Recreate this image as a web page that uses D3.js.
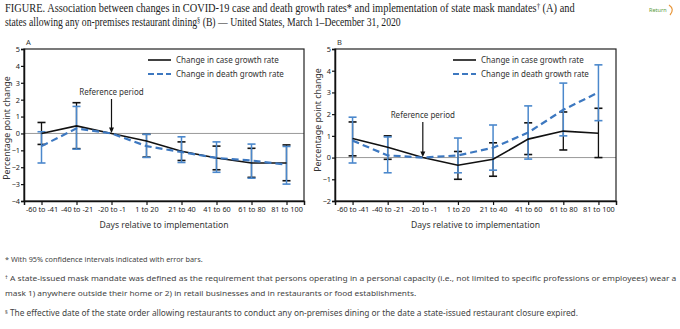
<!DOCTYPE html>
<html>
<head>
<meta charset="utf-8">
<script src="https://cdn.jsdelivr.net/npm/d3@7"></script>
<style>
  body { margin: 0; background: #fff; }
  svg text { font-family: "Noto Sans", sans-serif; }
</style>
</head>
<body>
<div id="chart"></div>
<script>
var periods = ['-60 to -41', '-40 to -21', '-20 to -1', '1 to 20', '21 to 40', '41 to 60', '61 to 80', '81 to 100'];

// panel A: mask mandates
var caseA = [0.0, 0.45, 0.0, -0.45, -1.05, -1.45, -1.75, -1.75];
var caseLoA = [-0.65, -0.9, 0.0, -1.4, -1.6, -2.15, -2.6, -2.8];
var caseHiA = [0.65, 1.82, 0.0, -0.05, -0.5, -0.75, -0.88, -0.68];
var deathA = [-0.75, 0.3, 0.0, -0.75, -1.1, -1.45, -1.6, -1.85];
var deathLoA = [-1.75, -0.93, 0.0, -1.42, -1.72, -2.3, -2.65, -3.0];
var deathHiA = [0.1, 1.6, 0.0, -0.05, -0.2, -0.5, -0.63, -0.77];

// panel B: restaurant dining
var caseB = [0.88, 0.48, 0.0, -0.35, -0.08, 0.85, 1.22, 1.12];
var caseLoB = [0.08, -0.08, 0.0, -1.0, -0.86, 0.14, 0.35, 0.0];
var caseHiB = [1.64, 1.0, 0.0, 0.28, 0.68, 1.6, 2.1, 2.27];
var deathB = [0.78, 0.1, 0.0, 0.1, 0.45, 1.15, 2.2, 3.0];
var deathLoB = [-0.25, -0.7, 0.0, -0.7, -0.58, -0.07, 1.0, 1.7];
var deathHiB = [1.86, 0.95, 0.0, 0.9, 1.5, 2.38, 3.43, 4.27];

var yTicksA = [5, 4, 3, 2, 1, 0, -1, -2, -3, -4];
var yTicksB = [5, 4, 3, 2, 1, 0, -1, -2];

var W = 680, H = 329;
var blue = '#3d78c0', barBlue = '#4b88cc';

var svg = d3.select('#chart').append('svg')
  .attr('width', W)
  .attr('height', H);

// a line of text made of [text, isSuperscript] parts, squeezed to a given width
function richLine(x, y, parts, width, font, size, color) {
  var t = svg.append('text')
    .style('font-family', font)
    .style('font-size', size)
    .attr('fill', color);
  parts.forEach(function(p, i) {
    var ts = t.append('tspan').text(p[0]);
    if (p[1]) ts.attr('dy', '-0.4em').style('font-size', '65%');
    else if (i > 0) ts.attr('dy', '0.26em');
  });
  var w = t.node().getComputedTextLength();
  var sx = w > 0 ? width / w : 1;
  t.attr('transform', 'translate(' + x + ',' + y + ') scale(' + sx + ',1)');
  return t;
}

// title
var serif = '"Liberation Serif", serif';
richLine(5, 12, [['FIGURE. Association between changes in COVID-19 case and death growth rates* and implementation of state mask mandates'], ['\u2020', true], [' (A) and']], 570, serif, '12px', '#222');
richLine(5, 26, [['states allowing any on-premises restaurant dining'], ['\u00a7', true], [' (B) \u2014 United States, March 1\u2013December 31, 2020']], 396, serif, '12px', '#222');

// return icon
svg.append('text')
  .attr('x', 649).attr('y', 12)
  .style('font-size', '5.5px')
  .attr('fill', '#5b9a3c')
  .text('Return');
svg.append('path')
  .attr('d', 'M669,5 Q675,9 670,15')
  .attr('fill', 'none')
  .attr('stroke', '#e8963a')
  .attr('stroke-width', 1.2);

function drawPanel(cfg) {
  var x = d3.scalePoint().domain(periods).range([cfg.left, cfg.right]).padding(0.5);
  var y = d3.scaleLinear().domain(cfg.yDomain).range([cfg.bottom, cfg.top]);
  var g = svg.append('g');

  // zero line
  g.append('line')
    .attr('x1', cfg.left).attr('x2', cfg.right)
    .attr('y1', y(0)).attr('y2', y(0))
    .attr('stroke', '#999').attr('stroke-width', 1);

  // frame
  g.append('rect')
    .attr('x', cfg.left).attr('y', cfg.top)
    .attr('width', cfg.right - cfg.left).attr('height', cfg.bottom - cfg.top)
    .attr('fill', 'none').attr('stroke', '#222').attr('stroke-width', 1.2);

  // axes
  var yAxis = g.append('g')
    .attr('transform', 'translate(' + cfg.left + ',0)')
    .call(d3.axisLeft(y).tickValues(cfg.yTicks).tickSize(3).tickPadding(1).tickFormat(d3.format('d')));
  var xAxis = g.append('g')
    .attr('transform', 'translate(0,' + cfg.bottom + ')')
    .call(d3.axisBottom(x).tickSize(4).tickPadding(2));
  [xAxis, yAxis].forEach(function(a) {
    a.select('.domain').attr('stroke', '#111').attr('stroke-width', 1.5);
    a.selectAll('.tick line').attr('stroke', '#111').attr('stroke-width', 1.2);
    a.selectAll('.tick text').attr('fill', '#222')
      .style('font-family', '"Noto Sans", sans-serif').style('font-size', '7.3px');
  });

  // axis titles
  g.append('text')
    .attr('transform', 'translate(' + cfg.yTitleX + ',' + cfg.yTitleY + ') rotate(-90)')
    .attr('text-anchor', 'middle')
    .style('font-size', '8.8px')
    .attr('fill', '#333')
    .text('Percentage point change');
  g.append('text')
    .attr('x', (cfg.left + cfg.right) / 2)
    .attr('y', cfg.bottom + 27)
    .attr('text-anchor', 'middle')
    .style('font-size', '8.6px')
    .attr('fill', '#333')
    .text('Days relative to implementation');

  // panel letter
  g.append('text')
    .attr('x', cfg.left + 2).attr('y', cfg.top - 4)
    .style('font-size', '7.5px')
    .attr('fill', '#333')
    .text(cfg.letter);

  // error bars
  function errorBars(lo, hi, color, width) {
    var idx = d3.range(periods.length).filter(function(i) { return i !== 2; });
    var eb = g.append('g');
    eb.selectAll('line.v').data(idx).enter().append('line')
      .attr('x1', function(i) { return x(periods[i]); })
      .attr('x2', function(i) { return x(periods[i]); })
      .attr('y1', function(i) { return y(lo[i]); })
      .attr('y2', function(i) { return y(hi[i]); })
      .attr('stroke', color).attr('stroke-width', width);
    [lo, hi].forEach(function(arr) {
      eb.selectAll(null).data(idx).enter().append('line')
        .attr('x1', function(i) { return x(periods[i]) - 4; })
        .attr('x2', function(i) { return x(periods[i]) + 4; })
        .attr('y1', function(i) { return y(arr[i]); })
        .attr('y2', function(i) { return y(arr[i]); })
        .attr('stroke', color).attr('stroke-width', 1.6);
    });
  }
  errorBars(cfg.caseLo, cfg.caseHi, '#111', 1.3);
  errorBars(cfg.deathLo, cfg.deathHi, barBlue, 1.5);

  var line = d3.line()
    .x(function(d, i) { return x(periods[i]); })
    .y(function(d) { return y(d); });

  g.append('path').datum(cfg.caseVals)
    .attr('d', line).attr('fill', 'none')
    .attr('stroke', '#111').attr('stroke-width', 1.6);
  g.append('path').datum(cfg.deathVals)
    .attr('d', line).attr('fill', 'none')
    .attr('stroke', blue).attr('stroke-width', 2.2)
    .attr('stroke-dasharray', '7,4');

  // reference period
  var rx = x(periods[2]);
  g.append('text')
    .attr('x', rx).attr('y', cfg.refY)
    .attr('text-anchor', 'middle')
    .style('font-size', '8px')
    .attr('fill', '#333')
    .text('Reference period');
  g.append('line')
    .attr('x1', rx).attr('x2', rx)
    .attr('y1', cfg.refY + 4).attr('y2', y(0) - 5)
    .attr('stroke', '#111').attr('stroke-width', 1.2);
  g.append('path')
    .attr('d', 'M' + (rx - 2.5) + ',' + (y(0) - 6) + 'L' + (rx + 2.5) + ',' + (y(0) - 6) + 'L' + rx + ',' + (y(0) - 0.5) + 'Z')
    .attr('fill', '#111');

  // legend
  var lg = g.append('g').attr('transform', 'translate(' + cfg.legX + ',' + cfg.legY + ')');
  lg.append('line').attr('x1', 0).attr('x2', 23).attr('y1', 0).attr('y2', 0)
    .attr('stroke', '#111').attr('stroke-width', 1.6);
  lg.append('line').attr('x1', 0).attr('x2', 23).attr('y1', 14).attr('y2', 14)
    .attr('stroke', blue).attr('stroke-width', 2.2).attr('stroke-dasharray', '6,3');
  lg.append('text').attr('x', 28).attr('y', 3)
    .style('font-size', '8px').attr('fill', '#333')
    .text('Change in case growth rate');
  lg.append('text').attr('x', 28).attr('y', 17)
    .style('font-size', '8px').attr('fill', '#333')
    .text('Change in death growth rate');
}

drawPanel({
  letter: 'A', left: 24, right: 304, top: 49, bottom: 201,
  yDomain: [-4, 5], yTicks: yTicksA, yTitleX: 10, yTitleY: 128,
  caseVals: caseA, caseLo: caseLoA, caseHi: caseHiA,
  deathVals: deathA, deathLo: deathLoA, deathHi: deathHiA,
  refY: 95, legX: 148, legY: 60
});

drawPanel({
  letter: 'B', left: 335, right: 616, top: 49, bottom: 201,
  yDomain: [-2, 5], yTicks: yTicksB, yTitleX: 321, yTitleY: 120,
  caseVals: caseB, caseLo: caseLoB, caseHi: caseHiB,
  deathVals: deathB, deathLo: deathLoB, deathHi: deathHiB,
  refY: 118, legX: 453, legY: 60
});

// footnotes
var sans = '"Noto Sans", sans-serif';
richLine(5, 262, [['* With 95% confidence intervals indicated with error bars.']], 198, sans, '8px', '#444');
richLine(5, 281, [['\u2020', true], [' A state-issued mask mandate was defined as the requirement that persons operating in a personal capacity (i.e., not limited to specific professions or employees) wear a']], 672, sans, '8px', '#444');
richLine(5, 296, [['mask 1) anywhere outside their home or 2) in retail businesses and in restaurants or food establishments.']], 412, sans, '8px', '#444');
richLine(5, 316, [['\u00a7', true], [' The effective date of the state order allowing restaurants to conduct any on-premises dining or the date a state-issued restaurant closure expired.']], 574, sans, '8px', '#444');
</script>
</body>
</html>
